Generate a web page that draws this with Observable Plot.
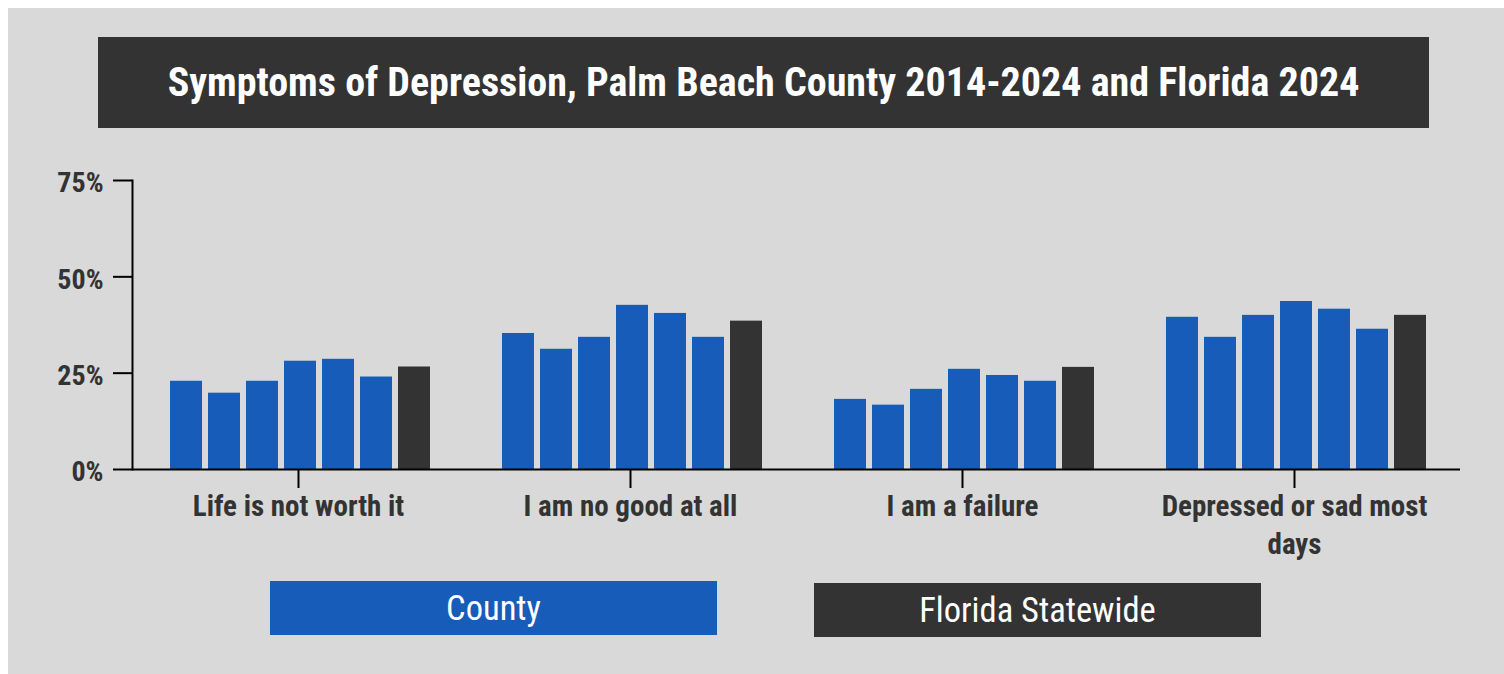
<!DOCTYPE html>
<html>
<head>
<meta charset="utf-8">
<script src="https://cdn.jsdelivr.net/npm/d3@7"></script>
<script src="https://cdn.jsdelivr.net/npm/@observablehq/plot@0.6"></script>
<style>
  html, body { margin: 0; padding: 0; background: #ffffff; }
  body { width: 1504px; height: 674px; position: relative; overflow: hidden;
         font-family: "Roboto Condensed", "Liberation Sans Narrow", "Arial Narrow", "DejaVu Sans Condensed", Roboto, sans-serif;
         font-stretch: condensed; }
  #panel { position: absolute; left: 8px; top: 8px; right: 0; bottom: 0; background: #d9d9d9; }
  #title { position: absolute; left: 98px; top: 37px; width: 1331px; height: 91px; background: #333333;
           color: #ffffff; font-weight: bold; font-size: 40px; display: flex; align-items: center; justify-content: center; }
  #chart { position: absolute; left: 0; top: 140px; }
  .leg { position: absolute; width: 447px; height: 54px; color: #ffffff; font-size: 34.5px;
         display: flex; align-items: center; justify-content: center; }
</style>
</head>
<body>
<div id="panel"></div>
<div id="title"></div>
<div id="chart"></div>
<div id="leg0" class="leg" style="left:270px; top:581px;"></div>
<div id="leg1" class="leg" style="left:814px; top:583px;"></div>
<script>
// ---- data ----
const titleText = "Symptoms of Depression, Palm Beach County 2014-2024 and Florida 2024";
const categories = ["Life is not worth it", "I am no good at all", "I am a failure", "Depressed or sad most days"];
const seriesKeys = ["2014", "2016", "2018", "2020", "2022", "2024", "Florida 2024"];
const county2014 = [22.9, 35.3, 18.2, 39.5];
const county2016 = [19.8, 31.2, 16.7, 34.3];
const county2018 = [22.9, 34.3, 20.8, 40.0];
const county2020 = [28.1, 42.6, 26.0, 43.6];
const county2022 = [28.6, 40.5, 24.4, 41.6];
const county2024 = [24.0, 34.3, 22.9, 36.4];
const florida2024 = [26.6, 38.5, 26.5, 40.0];
const legendLabels = ["County", "Florida Statewide"];
const legendColors = ["#175cb9", "#333333"];
const yTicks = [0, 25, 50, 75];

const FONT = '"Roboto Condensed", "Liberation Sans Narrow", "Arial Narrow", "DejaVu Sans Condensed", Roboto, sans-serif';

const seriesValues = [county2014, county2016, county2018, county2020, county2022, county2024, florida2024];
const rows = [];
categories.forEach((cat, i) => {
  seriesKeys.forEach((s, j) => {
    rows.push({cat, series: s, value: seriesValues[j][i], group: j === seriesKeys.length - 1 ? legendLabels[1] : legendLabels[0]});
  });
});

document.getElementById("title").textContent = titleText;
document.getElementById("leg0").textContent = legendLabels[0];
document.getElementById("leg0").style.background = legendColors[0];
document.getElementById("leg1").textContent = legendLabels[1];
document.getElementById("leg1").style.background = legendColors[1];

const wrapLabel = d => d === "Depressed or sad most days" ? "Depressed or sad most\ndays" : d;

const chart = Plot.plot({
  width: 1504,
  height: 420,
  marginLeft: 132,
  marginRight: 44,
  marginTop: 40,
  marginBottom: 91,
  style: {background: "transparent", fontFamily: FONT, overflow: "visible"},
  fx: {domain: categories, padding: 0, label: null},
  x: {domain: seriesKeys, paddingInner: 0.158, paddingOuter: 0.947, align: 0.528, axis: null},
  y: {domain: [0, 75], label: null},
  color: {domain: legendLabels, range: legendColors},
  marks: [
    Plot.barY(rows, {fx: "cat", x: "series", y: "value", fill: "group"}),
    Plot.ruleY([0], {stroke: "#000", strokeWidth: 2}),
    Plot.frame({anchor: "left", facetAnchor: "left", stroke: "#000", strokeWidth: 2}),
    Plot.axisY({ticks: yTicks, tickFormat: () => "", tickSize: 19, stroke: "#000", strokeWidth: 2, label: null}),
    Plot.axisY({ticks: yTicks, tickFormat: d => d + "%", tickSize: 0, tickPadding: 29, dy: 3,
      fontSize: 28, fontWeight: "bold", fill: "#333333", label: null}),
    Plot.axisFx({anchor: "bottom", tickSize: 19, tickPadding: 0, tickFormat: wrapLabel,
      fontSize: 29, fontWeight: "bold", lineHeight: 1.33, fill: "#333333", stroke: "#000", strokeWidth: 2, label: null})
  ]
});
document.getElementById("chart").appendChild(chart);
</script>
</body>
</html>
